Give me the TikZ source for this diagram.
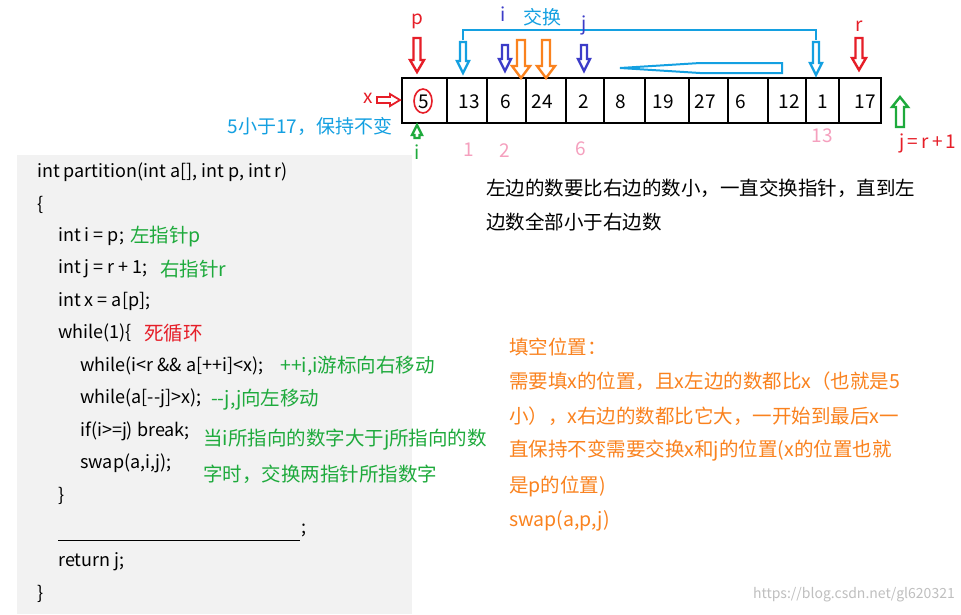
\documentclass[tikz,border=0pt]{standalone}
\usepackage{fontspec}
\setmainfont{Noto Sans CJK SC}
\definecolor{cy}{RGB}{20,160,225}
\definecolor{nv}{RGB}{60,60,200}
\definecolor{rd}{RGB}{230,30,40}
\definecolor{gr}{RGB}{30,170,60}
\definecolor{og}{RGB}{250,130,30}
\definecolor{pk}{RGB}{245,160,190}
\newcommand\darr[6]{% color, x, ytop, ybot, half shaft, half head
 \draw[#1,line width=2.4pt,line join=miter] (#2-#5,#3) -- (#2+#5,#3) -- (#2+#5,#4-12) -- (#2+#6,#4-12) -- (#2,#4) -- (#2-#6,#4-12) -- (#2-#5,#4-12) -- cycle;}
\newcommand\uarr[6]{%
 \draw[#1,line width=2.4pt,line join=miter] (#2-#5,#3) -- (#2+#5,#3) -- (#2+#5,#4+10) -- (#2+#6,#4+10) -- (#2,#4) -- (#2-#6,#4+10) -- (#2-#5,#4+10) -- cycle;}
\begin{document}
\begin{tikzpicture}[x=1pt,y=-1pt,
 code/.style={anchor=west,font=\fontsize{18}{20}\selectfont,inner sep=0pt},
 cmt/.style={anchor=west,font=\fontsize{19.5}{22}\selectfont,inner sep=0pt},
 lab/.style={font=\fontsize{19}{21}\selectfont,inner sep=0pt}]
\useasboundingbox (0,0) rectangle (961,614);
\fill[white] (0,0) rectangle (961,614);
\fill[black!5] (17,155) rectangle (412,614);
% array
\draw[line width=2.2pt] (402,78) rectangle (881,123);
\foreach \b in {447,487,526,566,604,645,689,728,768,806,839}
  \draw[line width=2.2pt] (\b,78) -- (\b,123);
\foreach \v/\c in {5/424,13/469,6/506,24/542,2/584,8/621,19/663,27/705,6/741,12/789,1/823,17/865}
  \node[lab] at (\c,102) {\v};
\draw[rd,line width=1.6pt] (423,101) ellipse (9 and 12);
% arrows
\darr{rd}{417}{38}{72}{3.5}{7}
\darr{cy}{463}{42}{73}{3}{6}
\darr{nv}{505}{45}{71}{3}{6}
\darr{og}{521}{40}{78}{4}{9}
\darr{og}{546}{40}{78}{4}{9}
\darr{nv}{584}{45}{71}{3}{6}
\darr{cy}{816}{42}{75}{3}{6}
\darr{rd}{859}{38}{70}{3.5}{7}
\draw[cy,line width=2pt] (463,40) -- (463,30) -- (816,30) -- (816,40);
\draw[cy,line width=2pt] (782,63) -- (700,63) -- (620,68) -- (700,73) -- (782,73) -- cycle;
\draw[rd,line width=1.8pt] (377,97) -- (390,97) -- (390,94) -- (400,100) -- (390,106) -- (390,103) -- (377,103) -- cycle;
\uarr{gr}{417}{138}{125}{2.5}{5}
\uarr{gr}{900}{127}{97}{4}{8}
% labels
\node[lab,rd] at (417,21) {p};
\node[lab,nv] at (503,14) {i};
\node[lab,cy] at (542,17) {交换};
\node[lab,nv] at (584,25) {j};
\node[lab,rd] at (859,26) {r};
\node[lab,rd] at (368,98) {x};
\node[lab,cy] at (310,126) {5小于17，保持不变};
\node[lab,gr] at (417,152) {i};
\node[lab,pk] at (469,150) {1};
\node[lab,pk] at (505,151) {2};
\node[lab,pk] at (581,149) {6};
\node[lab,pk] at (822,136) {13};
\node[lab,rd] at (928,143) {j\,=\,r\,+\,1};
\node[cmt] at (486,188) {左边的数要比右边的数小，一直交换指针，直到左};
\node[cmt] at (486,222) {边数全部小于右边数};
% code
\node[code] at (37,172) {int partition(int a[], int p, int r)};
\node[code] at (37,205) {\{};
\node[code] at (58,237) {int i = p;};
\node[cmt,gr] at (130,237) {左指针p};
\node[code] at (58,269) {int j = r + 1;};
\node[cmt,gr] at (160,269) {右指针r};
\node[code] at (58,301) {int x = a[p];};
\node[code] at (58,333) {while(1)\{};
\node[cmt,rd] at (144,333) {死循环};
\node[code] at (80,366) {while(i<r \&\& a[++i]<x);};
\node[cmt,gr] at (280,366) {++i,i游标向右移动};
\node[code] at (80,398) {while(a[-{}-j]>x);};
\node[cmt,gr] at (211,400) {-{}-j,j向左移动};
\node[code] at (80,431) {if(i>=j) break;};
\node[cmt,gr] at (203,440) {当i所指向的数字大于j所指向的数};
\node[cmt,gr] at (203,474) {字时，交换两指针所指数字};
\node[code] at (80,463) {swap(a,i,j);};
\node[code] at (58,496) {\}};
\draw (58,540) -- (300,540);
\node[code] at (301,530) {;};
\node[code] at (58,562) {return j;};
\node[code] at (37,594) {\}};
% orange note
\node[cmt,og] at (509,347) {填空位置：};
\node[cmt,og] at (509,381) {需要填x的位置，且x左边的数都比x（也就是5};
\node[cmt,og] at (509,416) {小），x右边的数都比它大，一开始到最后x一};
\node[cmt,og] at (509,451) {直保持不变需要交换x和j的位置(x的位置也就};
\node[cmt,og] at (509,486) {是p的位置)};
\node[cmt,og] at (509,521) {swap(a,p,j)};
\node[anchor=east,inner sep=0pt,black!25,font=\fontsize{14}{16}\selectfont] at (955,595) {https://blog.csdn.net/gl620321};
\end{tikzpicture}
\end{document}
